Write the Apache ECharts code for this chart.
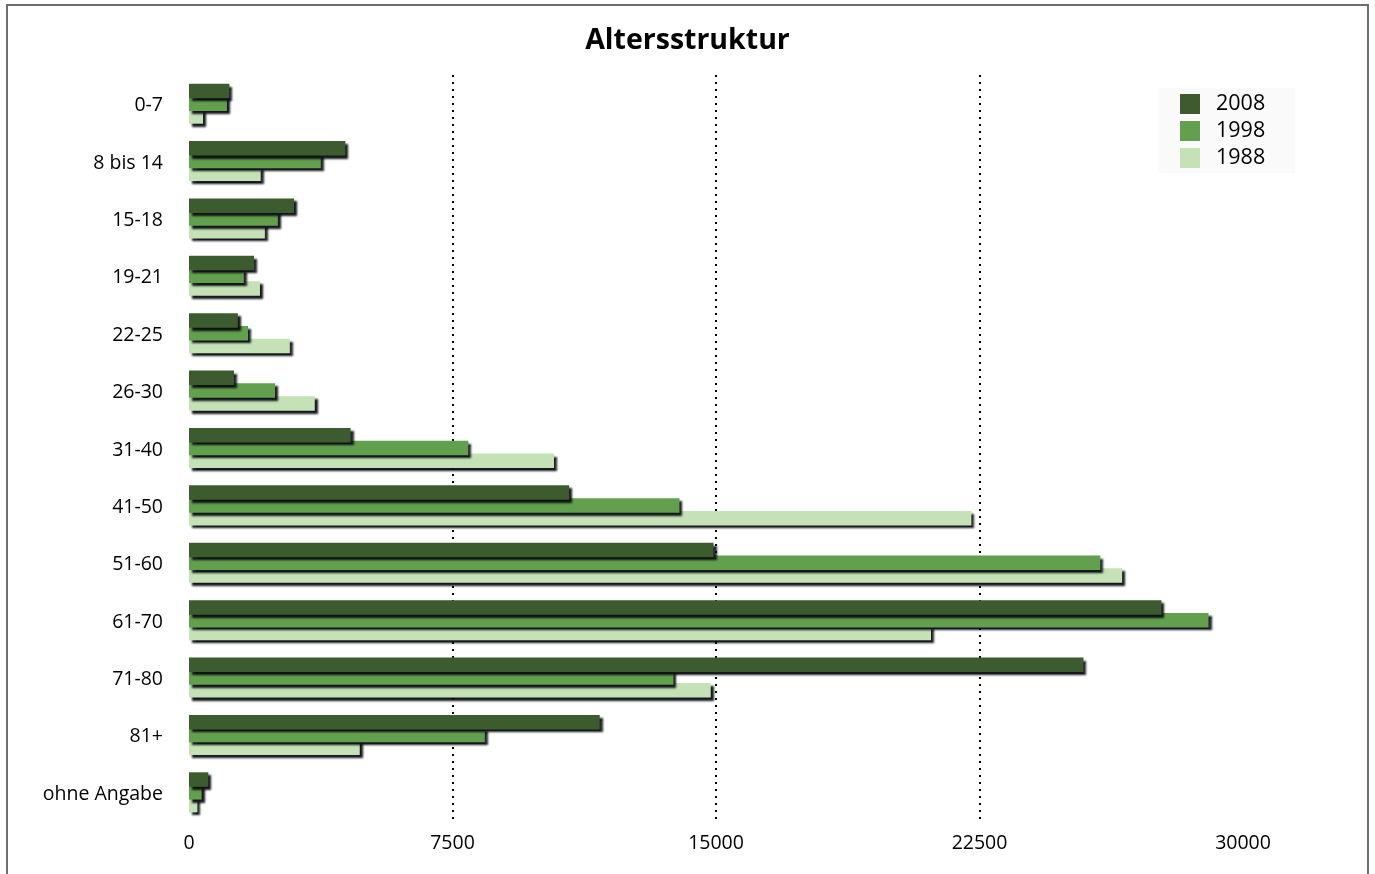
<!DOCTYPE html>
<html>
<head>
<meta charset="utf-8">
<script src="https://cdn.jsdelivr.net/npm/echarts@6/dist/echarts.min.js"></script>
<style>
  html, body { margin: 0; padding: 0; background: #ffffff; }
  #chart { width: 1375px; height: 874px; }
</style>
</head>
<body>
<div id="chart"></div>
<script>
// Age groups, top to bottom
const categories = ['0-7', '8 bis 14', '15-18', '19-21', '22-25', '26-30', '31-40',
  '41-50', '51-60', '61-70', '71-80', '81+', 'ohne Angabe'];

// Head counts per age group
const values2008 = [1150, 4450, 2990, 1850, 1390, 1280, 4600, 10820, 14930, 27680, 25460, 11690, 550];
const values1998 = [1080, 3750, 2530, 1560, 1680, 2450, 7950, 13960, 25940, 29020, 13790, 8420, 360];
const values1988 = [400, 2040, 2160, 2020, 2870, 3580, 10390, 22270, 26560, 21120, 14850, 4860, 240];

const seriesNames = ['2008', '1998', '1988'];
const seriesColors = ['#3c5b2f', '#62a04d', '#c4e2b6'];

const FONT = '"Open Sans", "Noto Sans", sans-serif';

function barSeries(name, data, color, z) {
  return {
    name: name,
    type: 'bar',
    data: data,
    barWidth: 14.5,
    barGap: '-12%',
    z: z,
    itemStyle: {
      color: color,
      shadowColor: 'rgba(10, 12, 18, 0.95)',
      shadowBlur: 2,
      shadowOffsetX: 3,
      shadowOffsetY: 3
    }
  };
}

const chart = echarts.init(document.getElementById('chart'), null, { renderer: 'canvas' });

chart.setOption({
  animation: false,
  backgroundColor: '#ffffff',
  title: {
    text: 'Altersstruktur',
    left: 'center',
    top: 21,
    textStyle: { fontFamily: FONT, fontSize: 28.5, fontWeight: 'bold', color: '#000' }
  },
  graphic: [{
    type: 'rect',
    shape: { x: 7, y: 5, width: 1361, height: 900 },
    style: { fill: 'none', stroke: '#6e6e6e', lineWidth: 2 },
    silent: true,
    z: -10
  }],
  legend: {
    data: seriesNames,
    orient: 'vertical',
    left: 1158,
    top: 88,
    padding: [5, 30, 4, 22],
    backgroundColor: '#fafafa',
    itemWidth: 20,
    itemHeight: 20,
    itemGap: 5,
    icon: 'rect',
    textStyle: {
      fontFamily: FONT, fontSize: 21.5, color: '#000',
      padding: [0, 0, 0, 11]
    }
  },
  grid: { left: 189, right: 132, top: 75, bottom: 53 },
  xAxis: {
    type: 'value',
    min: 0,
    max: 30000,
    interval: 7500,
    axisLine: { show: false },
    axisTick: { show: false },
    axisLabel: {
      fontFamily: FONT, fontSize: 19.5, color: '#000', margin: 12,
      formatter: function (v) { return String(v); }
    },
    splitLine: {
      show: true,
      showMinLine: false,
      showMaxLine: false,
      lineStyle: { color: '#000', width: 2, type: [2, 5] }
    }
  },
  yAxis: {
    type: 'category',
    data: categories,
    inverse: true,
    axisLine: { show: false },
    axisTick: { show: false },
    axisLabel: {
      margin: 26,
      formatter: function (v) { return '{c|' + v + '}'; },
      rich: {
        c: {
          fontFamily: FONT, fontSize: 19.5, color: '#000',
          padding: [4, 0, 0, 0]
        }
      }
    },
    splitLine: { show: false }
  },
  series: [
    barSeries(seriesNames[0], values2008, seriesColors[0], 4),
    barSeries(seriesNames[1], values1998, seriesColors[1], 3),
    barSeries(seriesNames[2], values1988, seriesColors[2], 2)
  ]
});
</script>
</body>
</html>
